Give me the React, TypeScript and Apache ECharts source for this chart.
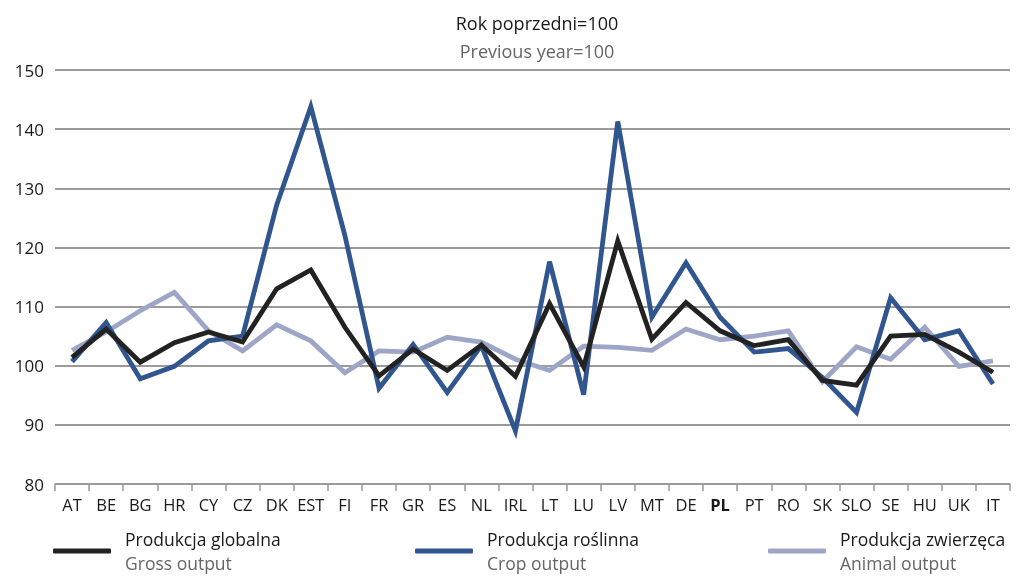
import React, { useEffect, useRef } from "react";
import * as echarts from "echarts";

const categories = ["AT","BE","BG","HR","CY","CZ","DK","EST","FI","FR","GR","ES","NL","IRL","LT","LU","LV","MT","DE","PL","PT","RO","SK","SLO","SE","HU","UK","IT"];
const grossOutput = [101.4,106.2,100.6,103.9,105.7,104.0,113.0,116.2,106.5,98.3,102.8,99.2,103.5,98.2,110.5,99.8,121.1,104.5,110.7,105.9,103.4,104.4,97.5,96.7,105.0,105.3,102.3,98.9];
const cropOutput = [100.7,107.3,97.8,99.9,104.2,105.0,127.2,143.8,122.0,96.2,103.6,95.5,103.4,89.0,117.6,95.1,141.3,108.2,117.4,108.2,102.3,102.9,98.0,92.1,111.5,104.4,105.9,96.9];
const animalOutput = [102.6,105.7,109.3,112.4,105.9,102.5,106.9,104.2,98.8,102.5,102.3,104.8,104.0,101.1,99.2,103.3,103.1,102.6,106.2,104.4,105.0,105.9,97.3,103.2,101.1,106.5,99.9,100.8];
const seriesNamesPl = ["Produkcja globalna","Produkcja roślinna","Produkcja zwierzęca"];
const seriesNamesEn = ["Gross output","Crop output","Animal output"];
const titlePl = "Rok poprzedni=100";
const titleEn = "Previous year=100";
const yMin = 80, yMax = 150, yStep = 10;

const FONT = "'Open Sans', 'Noto Sans', sans-serif";
const COLORS = ["#222222", "#31568f", "#9ea6c8"];

export default function App() {
  const ref = useRef<HTMLDivElement>(null);
  useEffect(() => {
    if (!ref.current) return;
    const chart = echarts.init(ref.current, null, { renderer: "svg" });
    const values = [grossOutput, cropOutput, animalOutput];
    const legendLefts = [53, 415, 768];
    chart.setOption({
      animation: false,
      textStyle: { fontFamily: FONT },
      grid: { left: 55, right: 15, top: 70, bottom: 94 },
      title: {
        text: titlePl,
        subtext: titleEn,
        left: 532,
        top: 6,
        textAlign: "center",
        itemGap: 4,
        textStyle: { fontFamily: FONT, fontSize: 18, fontWeight: "normal", color: "#1a1a1a", lineHeight: 24 },
        subtextStyle: { fontFamily: FONT, fontSize: 18, color: "#666666", lineHeight: 24 },
      },
      legend: seriesNamesPl.map((n, i) => ({
        data: [n],
        left: legendLefts[i],
        top: 530,
        icon: "roundRect",
        itemWidth: 58,
        itemHeight: 5,
        itemGap: 0,
        padding: 0,
        selectedMode: false,
        formatter: () => `{a|${seriesNamesPl[i]}}\n{b|${seriesNamesEn[i]}}`,
        textStyle: {
          padding: [0, 0, 0, 9],
          rich: {
            a: { fontFamily: FONT, fontSize: 17.5, color: "#1a1a1a", lineHeight: 24 },
            b: { fontFamily: FONT, fontSize: 17.5, color: "#666666", lineHeight: 24 },
          },
        },
      })),
      xAxis: {
        type: "category",
        data: categories,
        boundaryGap: true,
        axisLine: { lineStyle: { color: "#999999", width: 1.5 } },
        axisTick: { show: true, length: 7, alignWithLabel: false, lineStyle: { color: "#999999", width: 1.5 } },
        axisLabel: {
          interval: 0,
          margin: 12,
          color: "#1a1a1a",
          fontFamily: FONT,
          fontSize: 16.5,
          formatter: (v: string) => (v === "PL" ? `{b|${v}}` : v),
          rich: { b: { fontWeight: "bold", fontFamily: FONT, fontSize: 16.5, color: "#1a1a1a" } },
        },
      },
      yAxis: {
        type: "value",
        min: yMin,
        max: yMax,
        interval: yStep,
        axisLine: { show: false },
        axisTick: { show: false },
        axisLabel: { color: "#1a1a1a", fontFamily: FONT, fontSize: 17, margin: 11 },
        splitLine: { lineStyle: { color: "#7a7a7a", width: 1.5 } },
      },
      series: seriesNamesPl.map((n, i) => ({
        name: n,
        type: "line",
        data: values[i],
        symbol: "none",
        z: i === 2 ? 1 : i === 0 ? 3 : 2,
        lineStyle: { color: COLORS[i], width: 4.8, join: "miter" },
        itemStyle: { color: COLORS[i] },
      })),
    });
    return () => chart.dispose();
  }, []);
  return <div ref={ref} style={{ position: "fixed", left: 0, top: 0, width: 1025, height: 578 }} />;
}
